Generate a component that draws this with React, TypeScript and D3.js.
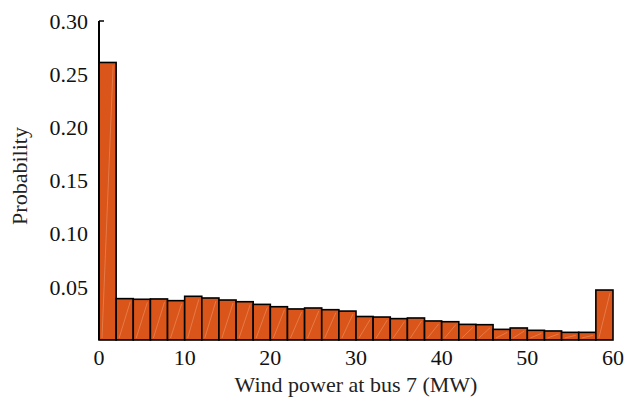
import * as d3 from "d3";
import { useEffect, useRef } from "react";

const binStarts = [
  0, 2, 4, 6, 8, 10, 12, 14, 16, 18, 20, 22, 24, 26, 28, 30, 32, 34, 36, 38, 40, 42, 44, 46, 48, 50,
  52, 54, 56, 58,
];
const probabilities = [
  0.261, 0.0389, 0.0383, 0.0386, 0.037, 0.0411, 0.0395, 0.0376, 0.036, 0.0335, 0.0313, 0.0292,
  0.0301, 0.0285, 0.0272, 0.0221, 0.0216, 0.0201, 0.0207, 0.0179, 0.0172, 0.0147, 0.0144, 0.01,
  0.0113, 0.0091, 0.0085, 0.0072, 0.0072, 0.047,
];
const binWidth = 2;
const xTicks = [0, 10, 20, 30, 40, 50, 60];
const yTicks = [0.05, 0.1, 0.15, 0.2, 0.25, 0.3];

const W = 630;
const H = 404;
const FONT = "'Liberation Serif', 'Times New Roman', serif";

export default function App() {
  const ref = useRef<SVGSVGElement>(null);

  useEffect(() => {
    if (!ref.current) return;
    const svg = d3.select(ref.current);
    svg.selectAll("*").remove();

    const margin = { top: 21, right: 17, bottom: 64, left: 99 };
    const innerW = W - margin.left - margin.right;
    const innerH = H - margin.top - margin.bottom;

    const x = d3.scaleLinear().domain([0, 60]).range([0, innerW]);
    const y = d3.scaleLinear().domain([0, 0.3]).range([innerH, 0]);

    const g = svg.append("g").attr("transform", `translate(${margin.left},${margin.top})`);

    // inward ticks (mostly hidden by bars, like the original)
    g.selectAll("line.ytick")
      .data(yTicks)
      .join("line")
      .attr("x1", 0)
      .attr("x2", 5)
      .attr("y1", (d) => y(d))
      .attr("y2", (d) => y(d))
      .attr("stroke", "#000")
      .attr("stroke-width", 1.5);

    const data = binStarts.map((s, i) => ({ s, p: probabilities[i] }));

    const bars = g.selectAll("g.bar").data(data).join("g").attr("class", "bar");

    bars
      .append("rect")
      .attr("x", (d) => x(d.s))
      .attr("y", (d) => y(d.p))
      .attr("width", (d) => x(d.s + binWidth) - x(d.s))
      .attr("height", (d) => innerH - y(d.p))
      .attr("fill", "#DA5519")
      .attr("stroke", "#000")
      .attr("stroke-width", 1.6);

    bars
      .append("line")
      .attr("x1", (d) => x(d.s) + 3)
      .attr("y1", innerH - 2)
      .attr("x2", (d) => x(d.s + binWidth) - 3)
      .attr("y2", (d) => y(d.p) + 3)
      .attr("stroke", "#F0A37C")
      .attr("stroke-opacity", 0.6)
      .attr("stroke-width", 0.8);

    // y axis line
    g.append("line")
      .attr("x1", 0)
      .attr("x2", 0)
      .attr("y1", 0)
      .attr("y2", innerH)
      .attr("stroke", "#000")
      .attr("stroke-width", 2);

    g.selectAll("text.ylab")
      .data(yTicks)
      .join("text")
      .attr("x", -11)
      .attr("y", (d) => y(d))
      .attr("dy", "0.35em")
      .attr("text-anchor", "end")
      .attr("font-family", FONT)
      .attr("font-size", 22)
      .attr("fill", "#111")
      .text((d) => d.toFixed(2));

    g.selectAll("text.xlab")
      .data(xTicks)
      .join("text")
      .attr("x", (d) => x(d))
      .attr("y", innerH + 25)
      .attr("text-anchor", "middle")
      .attr("font-family", FONT)
      .attr("font-size", 22)
      .attr("fill", "#111")
      .text((d) => String(d));

    svg
      .append("text")
      .attr("x", margin.left + innerW / 2)
      .attr("y", 392)
      .attr("text-anchor", "middle")
      .attr("font-family", FONT)
      .attr("font-size", 22)
      .attr("fill", "#222")
      .text("Wind power at bus 7 (MW)");

    svg
      .append("text")
      .attr("transform", `translate(27,176) rotate(-90)`)
      .attr("text-anchor", "middle")
      .attr("font-family", FONT)
      .attr("font-size", 22)
      .attr("fill", "#222")
      .text("Probability");
  }, []);

  return (
    <svg
      ref={ref}
      width={W}
      height={H}
      style={{ position: "absolute", left: 0, top: 0, background: "#fff" }}
    />
  );
}
